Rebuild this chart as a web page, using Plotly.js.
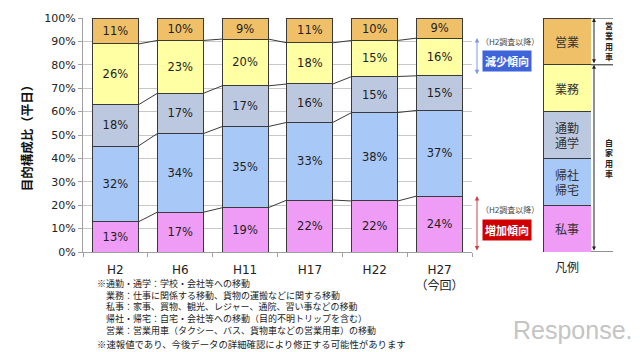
<!DOCTYPE html>
<html><head><meta charset="utf-8">
<script src="https://cdn.plot.ly/plotly-3.0.1.min.js"></script>
<style>html,body{margin:0;padding:0;background:#fff}#c{width:640px;height:352px}</style>
</head><body><div id="c"></div>
<script>
// ---- data ----
const years = ['H2','H6','H11','H17','H22','H27<br>（今回）'];
const shiji  = [12.9, 17.0, 18.9, 22.2, 21.8, 23.9];   // 私事
const kisha  = [32.4, 33.6, 34.7, 33.2, 37.8, 36.6];   // 帰社・帰宅
const tsukin = [17.6, 17.2, 17.4, 16.4, 15.4, 14.8];   // 通勤・通学
const gyomu  = [26.0, 22.6, 20.0, 17.6, 15.4, 16.1];   // 業務
const eigyo  = [11.1,  9.6,  9.0, 10.6,  9.6,  8.6];   // 営業
const seriesNames = ['私事','帰社・帰宅','通勤・通学','業務','営業'];
const legendLabels = ['私事','帰社<br>帰宅','通勤<br>通学','業務','営業'];
const legendValues = [20, 20, 20, 20, 20];
const legendTick = ['凡例'];
const yTicks = [0,10,20,30,40,50,60,70,80,90,100];
const yTickText = yTicks.map(v => v + '%');
const notes = [
  '※通勤・通学：学校・会社等への移動',
  '　業務：仕事に関係する移動、貨物の運搬などに関する移動',
  '　私事：家事、買物、観光、レジャー、通院、習い事などの移動',
  '　帰社・帰宅：自宅・会社等への移動（目的不明トリップを含む）',
  '　営業：営業用車（タクシー、バス、貨物車などの営業用車）の移動'
];
const note2 = '※速報値であり、今後データの詳細確認により修正する可能性があります';
const yTitle = '目的構成比（平日）';
const trendNote = '（H2調査以降）';
const decLabel = '減少傾向';
const incLabel = '増加傾向';
const grpTop = '営業用車';
const grpBottom = '自家用車';

// ---- style ----
const colors = ['#EE9CF6','#A8C8F8','#BCC8E0','#FFFFA4','#F0C068'];
const NUM = 'DejaVu Sans, Noto Sans CJK JP, sans-serif';
const JP = 'Noto Sans CJK JP, sans-serif';
const BW = 0.71;
const L = 83, PW = 557, T = 18, PH = 234;
const px = x => (x - L) / PW;
const pyp = y => (T + PH - y) / PH;

const all = [shiji, kisha, tsukin, gyomu, eigyo];
const xi = years.map((_, i) => i);
const traces = [];
all.forEach((vals, k) => {
  traces.push({
    type: 'bar', x: xi, y: vals, name: seriesNames[k], width: BW,
    marker: {color: colors[k], line: {color: '#3a3a3a', width: 1}},
    texttemplate: '%{y:.0f}%', textposition: 'inside', insidetextanchor: 'middle',
    textangle: 0, constraintext: 'none',
    textfont: {family: NUM, size: 11.5, color: '#1e1e1e'},
    hoverinfo: 'skip', showlegend: false, xaxis: 'x', yaxis: 'y'
  });
});
// series connector lines
const cum = years.map((_, i) => { let s = 0; return all.slice(0, 4).map(a => (s += a[i])); });
const lx = [], ly = [];
for (let b = 0; b < 4; b++) {
  for (let i = 0; i < years.length - 1; i++) {
    lx.push(i + BW / 2, i + 1 - BW / 2, null);
    ly.push(cum[i][b], cum[i + 1][b], null);
  }
}
traces.push({type: 'scatter', mode: 'lines', x: lx, y: ly, line: {color: '#3a3a3a', width: 1},
  hoverinfo: 'skip', showlegend: false, xaxis: 'x', yaxis: 'y'});
// legend key bar
legendValues.forEach((v, k) => {
  traces.push({
    type: 'bar', x: [0], y: [v], width: 1, text: [legendLabels[k]], texttemplate: '%{text}',
    textposition: 'inside', insidetextanchor: 'middle', textangle: 0, constraintext: 'none',
    textfont: {family: JP, size: 12, color: '#333'},
    marker: {color: colors[k], line: {color: '#3a3a3a', width: 1}},
    hoverinfo: 'skip', showlegend: false, xaxis: 'x2', yaxis: 'y2'
  });
});

const h27 = years.length - 1;
const base27 = cum[h27];
const ann = [];
// upper trend arrow (業務 band of H27)
ann.push({xref: 'paper', yref: 'y', x: px(477), y: base27[3], axref: 'pixel', ayref: 'y', ax: 0, ay: base27[2],
  showarrow: true, arrowside: 'end+start', arrowhead: 2, arrowsize: 0.9, arrowwidth: 1, arrowcolor: '#7a9ae0', text: ''});
ann.push({xref: 'paper', yref: 'y', x: px(510), y: 89.9, xanchor: 'center', text: trendNote, showarrow: false,
  font: {family: JP, size: 8, color: '#444'}});
ann.push({xref: 'paper', yref: 'y', x: px(507), y: 81.5, xanchor: 'center', text: '<b>' + decLabel + '</b>', showarrow: false,
  bgcolor: '#3F63D8', borderpad: 2, font: {family: JP, size: 11, color: '#fff'}});
// lower trend arrow (私事 band of H27)
ann.push({xref: 'paper', yref: 'y', x: px(477), y: base27[0], axref: 'pixel', ayref: 'y', ax: 0, ay: 0,
  showarrow: true, arrowside: 'end+start', arrowhead: 2, arrowsize: 0.9, arrowwidth: 1, arrowcolor: '#d04040', text: ''});
ann.push({xref: 'paper', yref: 'y', x: px(510), y: 18.3, xanchor: 'center', text: trendNote, showarrow: false,
  font: {family: JP, size: 8, color: '#444'}});
ann.push({xref: 'paper', yref: 'y', x: px(507), y: 9.3, xanchor: 'center', text: '<b>' + incLabel + '</b>', showarrow: false,
  bgcolor: '#D00000', borderpad: 2, font: {family: JP, size: 11, color: '#fff'}});
// right brackets
const legCut = 100 - legendValues[4];
ann.push({xref: 'paper', yref: 'y', x: px(594), y: 100, axref: 'pixel', ayref: 'y', ax: 0, ay: legCut,
  showarrow: true, arrowside: 'end+start', arrowhead: 2, arrowsize: 0.8, arrowwidth: 1, arrowcolor: '#222', text: ''});
ann.push({xref: 'paper', yref: 'y', x: px(594), y: legCut, axref: 'pixel', ayref: 'y', ax: 0, ay: 0,
  showarrow: true, arrowside: 'end+start', arrowhead: 2, arrowsize: 0.8, arrowwidth: 1, arrowcolor: '#222', text: ''});
function vtext(str, xp, yv) {
  ann.push({xref: 'paper', yref: 'y', x: px(xp), y: yv, xanchor: 'center', yanchor: 'middle',
    text: '<b>' + Array.from(str).join('<br>') + '</b>', showarrow: false,
    font: {family: JP, size: 8, color: '#222'}});
}
vtext(grpTop, 609, 90);
vtext(grpBottom, 609, 40);
// notes
ann.push({xref: 'paper', yref: 'paper', x: px(95), y: pyp(275), xanchor: 'left', yanchor: 'top', align: 'left',
  text: notes.join('<br>'), showarrow: false, font: {family: JP, size: 9, color: '#1a1a1a'}});
ann.push({xref: 'paper', yref: 'paper', x: px(95), y: pyp(344), xanchor: 'left', yanchor: 'middle',
  text: note2, showarrow: false, font: {family: JP, size: 9.4, color: '#1a1a1a'}});
// watermark
ann.push({xref: 'paper', yref: 'paper', x: px(573), y: pyp(330), xanchor: 'center', yanchor: 'middle', text: 'Response.', showarrow: false,
  font: {family: 'Liberation Sans, sans-serif', size: 25, color: '#c4c4c4'}});

const shapes = [100, legCut, 0].map(v => ({type: 'line', xref: 'paper', yref: 'y', x0: px(591), x1: px(613), y0: v, y1: v,
  line: {color: '#222', width: 1}}));

const layout = {
  width: 640, height: 352, margin: {l: L, r: 0, t: T, b: 100},
  paper_bgcolor: '#fff', plot_bgcolor: 'rgba(0,0,0,0)',
  barmode: 'stack', showlegend: false,
  xaxis: {domain: [0, px(472)], range: [-0.5, 5.5], tickmode: 'array', tickvals: xi, ticktext: years,
    ticks: '', ticklabelstandoff: 7, showgrid: false, zeroline: false, showline: true, linecolor: '#a0a0a0',
    tickfont: {family: NUM, size: 12, color: '#222'},
    minor: {tickmode: 'linear', tick0: -0.5, dtick: 1, ticks: 'outside', ticklen: 4, tickcolor: '#a0a0a0', showgrid: false}},
  yaxis: {domain: [0, 1], range: [0, 100], tickmode: 'array', tickvals: yTicks, ticktext: yTickText,
    ticks: 'outside', ticklen: 4, tickcolor: '#a0a0a0', showgrid: true, gridcolor: '#c8c8c8', zeroline: false,
    showline: true, linecolor: '#a0a0a0', tickfont: {family: NUM, size: 11, color: '#222'},
    title: {text: yTitle, standoff: 8, font: {family: JP, size: 12.5, weight: 'bold', color: '#111'}}},
  xaxis2: {domain: [px(543), px(591)], range: [-0.5, 0.5], anchor: 'y2', tickmode: 'array', tickvals: [0], ticktext: legendTick,
    ticks: '', ticklabelstandoff: 7, showgrid: false, zeroline: false, showline: false, tickfont: {family: JP, size: 12, color: '#222'}},
  yaxis2: {domain: [0, 1], range: [0, 100], anchor: 'x2', visible: false, showgrid: false},
  annotations: ann, shapes: shapes
};
Plotly.newPlot('c', traces, layout, {staticPlot: true, displayModeBar: false});
</script></body></html>
